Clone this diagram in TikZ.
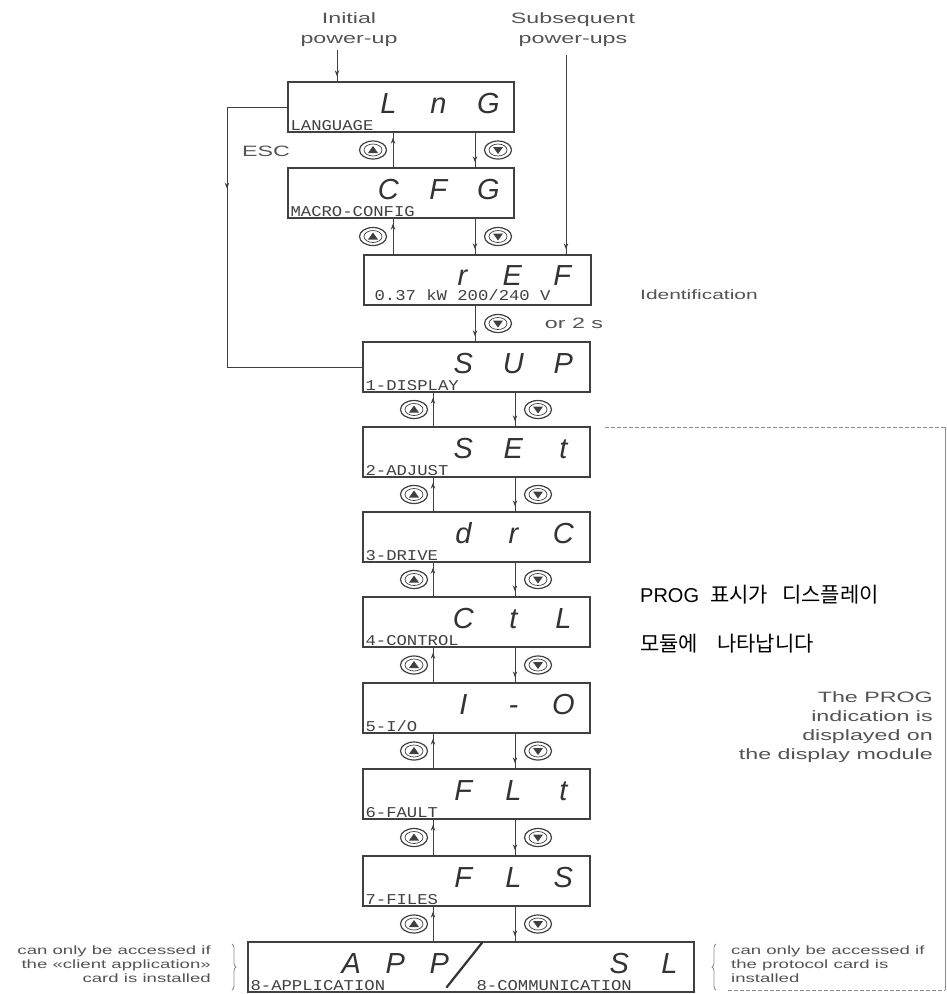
\documentclass[tikz,border=0pt]{standalone}
\usepackage{fontspec}
\setmainfont{Liberation Sans}
\newfontfamily\widefont[FakeStretch=1.55]{Liberation Sans}
\newfontfamily\lcdfont[FakeStretch=1.15]{Liberation Mono}
\newfontfamily\krfont{Noto Sans CJK KR}
\usetikzlibrary{calc,shapes.geometric,decorations.markings,decorations.pathreplacing,arrows.meta}
\definecolor{linec}{gray}{0.25}
\definecolor{txtc}{gray}{0.33}
\newcommand\sgc[1]{\makebox[50pt]{#1}}
\newcommand\sgn[1]{\makebox[44pt]{#1}}
\begin{document}
\begin{tikzpicture}[x=1pt,y=-1pt,
  disp/.style={draw=linec, line width=1.3pt, rectangle, minimum height=50pt, inner sep=0pt},
  seg/.style={anchor=base, inner sep=0pt, text depth=0pt, text height=21pt, text=black!80, font=\itshape\fontsize{29}{29}\selectfont},
  lcd/.style={anchor=base west, inner sep=0pt, text height=9pt, text depth=0pt, text=black!75, font=\lcdfont\fontsize{15}{15}\selectfont},
  lbl/.style={inner sep=0pt, text=txtc, font=\widefont\fontsize{15}{20}\selectfont},
  smalltxt/.style={inner sep=0pt, text=txtc, font=\widefont\fontsize{12}{14}\selectfont},
  arr/.style={draw=linec, line width=1pt, postaction={decorate},
    decoration={markings, mark=at position -5pt with {\arrow{Stealth[length=6pt,width=4.5pt]}}}},
  btn/.style={ellipse, draw=linec, line width=1.2pt, minimum width=27pt, minimum height=18pt, inner sep=0pt},
  upbtn/.style={btn, path picture={
    \coordinate (c) at (path picture bounding box.center);
    \draw[linec, line width=0.7pt] (c) ellipse [x radius=9pt, y radius=6pt];
    \fill[linec] ($(c)+(-5pt,-3pt)$) -- ++(10pt,0pt) -- ++(-5pt,7pt) -- cycle;}},
  dnbtn/.style={btn, path picture={
    \coordinate (c) at (path picture bounding box.center);
    \draw[linec, line width=0.7pt] (c) ellipse [x radius=9pt, y radius=6pt];
    \fill[linec] ($(c)+(-5pt,3pt)$) -- ++(10pt,0pt) -- ++(-5pt,-7pt) -- cycle;}},
  grayline/.style={draw=black!45, line width=0.9pt},
  dashline/.style={draw=black!45, line width=0.9pt, dash pattern=on 4pt off 2pt},
  bracec/.style={draw=black!45, line width=0.8pt, decorate, decoration={brace, amplitude=4pt}}
]
\useasboundingbox (0,0) rectangle (947,994);
\fill[white] (0,0) rectangle (947,994);

% display boxes
\node[disp, minimum width=226pt] (lng) at (401,107) {};
\node[disp, minimum width=226pt] (cfg) at (401,193) {};
\node[disp, minimum width=227pt] (ref) at (477.5,280) {};
\node[disp, minimum width=227pt] (sup) at (476.5,367) {};
\node[disp, minimum width=227pt] (set) at (476.5,452) {};
\node[disp, minimum width=227pt] (drc) at (476.5,537) {};
\node[disp, minimum width=227pt] (ctl) at (476.5,622) {};
\node[disp, minimum width=227pt] (io) at (476.5,708) {};
\node[disp, minimum width=227pt] (flt) at (476.5,794) {};
\node[disp, minimum width=227pt] (fls) at (476.5,881) {};
\node[disp, minimum width=446pt] (app) at (471,967) {};

% big display characters
\node[seg] (lngT) at ($(lng.west)+(151,6)$) {\sgc{L}\sgc{n}\sgc{G}};
\node[seg] (cfgT) at ($(cfg.west)+(151,6)$) {\sgc{C}\sgc{F}\sgc{G}};
\node[seg] (refT) at ($(ref.west)+(149,5)$) {\sgc{r}\sgc{E}\sgc{F}};
\node[seg] (supT) at ($(sup.west)+(151,6)$) {\sgc{S}\sgc{U}\sgc{P}};
\node[seg] (setT) at ($(set.west)+(151,6)$) {\sgc{S}\sgc{E}\sgc{t}};
\node[seg] (drcT) at ($(drc.west)+(151,6)$) {\sgc{d}\sgc{r}\sgc{C}};
\node[seg] (ctlT) at ($(ctl.west)+(151,6)$) {\sgc{C}\sgc{t}\sgc{L}};
\node[seg] (ioT) at ($(io.west)+(151,6)$) {\sgc{I}\sgc{-}\sgc{O}};
\node[seg] (fltT) at ($(flt.west)+(151,6)$) {\sgc{F}\sgc{L}\sgc{t}};
\node[seg] (flsT) at ($(fls.west)+(151,6)$) {\sgc{F}\sgc{L}\sgc{S}};
\node[seg] (appT) at ($(app.west)+(148,6)$) {\sgn{A}\sgn{P}\sgn{P}};
\node[seg] (slT) at ($(app.west)+(397,6)$) {\sgc{S}\sgc{L}};
\coordinate (slashB) at ($(app.south west)+(199,-5)$);
\coordinate (slashT) at ($(app.north west)+(235,1)$);
\draw[black!80, line width=2.2pt] (slashB) -- (slashT);

% small labels
\node[lcd] (lngL) at ($(lng.south west)+(3,-2)$) {LANGUAGE};
\node[lcd] (cfgL) at ($(cfg.south west)+(3,-2)$) {MACRO-CONFIG};
\node[lcd] (refL) at ($(ref.south west)+(11,-5)$) {0.37 kW 200/240 V};
\node[lcd] (supL) at ($(sup.south west)+(3,-2)$) {1-DISPLAY};
\node[lcd] (setL) at ($(set.south west)+(3,-2)$) {2-ADJUST};
\node[lcd] (drcL) at ($(drc.south west)+(3,-2)$) {3-DRIVE};
\node[lcd] (ctlL) at ($(ctl.south west)+(3,-2)$) {4-CONTROL};
\node[lcd] (ioL) at ($(io.south west)+(3,-2)$) {5-I/O};
\node[lcd] (fltL) at ($(flt.south west)+(3,-2)$) {6-FAULT};
\node[lcd] (flsL) at ($(fls.south west)+(3,-2)$) {7-FILES};
\node[lcd] (appL) at ($(app.south west)+(3,-2)$) {8-APPLICATION};
\node[lcd] (slL) at ($(app.south west)+(229,-2)$) {8-COMMUNICATION};

% column coordinates
\coordinate (tux) at (393,0);
\coordinate (tdx) at (475,0);
\coordinate (tbu) at (373,0);
\coordinate (tbd) at (498,0);
\coordinate (lux) at (433,0);
\coordinate (ldx) at (515,0);
\coordinate (lbu) at (414,0);
\coordinate (lbd) at (538,0);

% upper chain
\coordinate (m1) at ($(lng.south)!0.5!(cfg.north)$);
\coordinate (m2) at ($(cfg.south)!0.5!(ref.north)$);
\coordinate (m3) at ($(ref.south)!0.5!(sup.north)$);
\draw[arr] (cfg.north -| tux) -- (lng.south -| tux);
\draw[arr] (lng.south -| tdx) -- (cfg.north -| tdx);
\draw[arr] (ref.north -| tux) -- (cfg.south -| tux);
\draw[arr] (cfg.south -| tdx) -- (ref.north -| tdx);
\draw[arr] (ref.south -| tdx) -- (sup.north -| tdx);
\node[upbtn] (bu1) at (m1 -| tbu) {};
\node[dnbtn] (bd1) at (m1 -| tbd) {};
\node[upbtn] (bu2) at (m2 -| tbu) {};
\node[dnbtn] (bd2) at (m2 -| tbd) {};
\node[dnbtn] (bd3) at (m3 -| tbd) {};

% lower chain
\foreach \a/\b/\i in {sup/set/4, set/drc/5, drc/ctl/6, ctl/io/7, io/flt/8, flt/fls/9, fls/app/10} {
  \coordinate (m\i) at ($(\a.south)!0.5!(\b.north)$);
  \draw[arr] (\b.north -| lux) -- (\a.south -| lux);
  \draw[arr] (\a.south -| ldx) -- (\b.north -| ldx);
  \node[upbtn] (bu\i) at (m\i -| lbu) {};
  \node[dnbtn] (bd\i) at (m\i -| lbd) {};
}

% power-up entries
\node[lbl, align=center, anchor=north] (init) at (349,12) {Initial\\power-up};
\node[lbl, align=center, anchor=north] (subs) at (573,12) {Subsequent\\power-ups};
\coordinate (initS) at (337,50);
\coordinate (subsS) at (566,55);
\draw[arr] (initS) -- (initS |- lng.north);
\draw[arr] (subsS) -- (subsS |- ref.north);

% ESC loop
\coordinate (escx) at (227,0);
\draw[draw=linec, line width=1pt, postaction={decorate},
  decoration={markings, mark=at position 142pt with {\arrow{Stealth[length=6pt,width=4.5pt]}}}]
  (lng.west) -- (lng.west -| escx) -- (sup.west -| escx) -- (sup.west);
\node[lbl] (esc) at (266,151) {ESC};

% side labels
\node[lbl] (or2s) at (574,323) {or 2 s};
\node[lbl, anchor=west, font=\widefont\fontsize{13.5}{16}\selectfont] (ident) at (640,295) {Identification};

% PROG region
\coordinate (d1) at (605,427);
\coordinate (d2) at (945,427);
\coordinate (d3) at (945,990);
\coordinate (d4) at (728,990);
\draw[dashline] (d1) -- (d2);
\draw[grayline] (d2) -- (d3);
\draw[dashline] (d4) -- (d3);

\node[anchor=west, inner sep=0pt, font=\fontsize{20}{20}\selectfont] (kr1) at (640,595)
  {PROG\hspace{11pt}{\krfont\fontsize{21}{21}\selectfont 표시가\hspace{14pt}디스플레이}};
\node[anchor=west, inner sep=0pt, font=\fontsize{21}{21}\selectfont] (kr2) at (640,644)
  {{\krfont 모듈에\hspace{19pt}나타납니다}};
\node[lbl, align=right, anchor=north east, font=\widefont\fontsize{15}{19}\selectfont] (progtxt) at (933,691)
  {The PROG\\indication is\\displayed on\\the display module};

% bottom side notes
\node[smalltxt, align=right, anchor=east] (noteL) at (211,964)
  {can only be accessed if\\the «client application»\\card is installed};
\node[smalltxt, align=left, anchor=west] (noteR) at (731,964)
  {can only be accessed if\\the protocol card is\\installed};
\coordinate (bl1) at (232,944);
\coordinate (bl2) at (232,990);
\coordinate (br1) at (716,944);
\coordinate (br2) at (716,990);
\draw[bracec] (bl1) -- (bl2);
\draw[bracec] (br2) -- (br1);
\end{tikzpicture}
\end{document}
